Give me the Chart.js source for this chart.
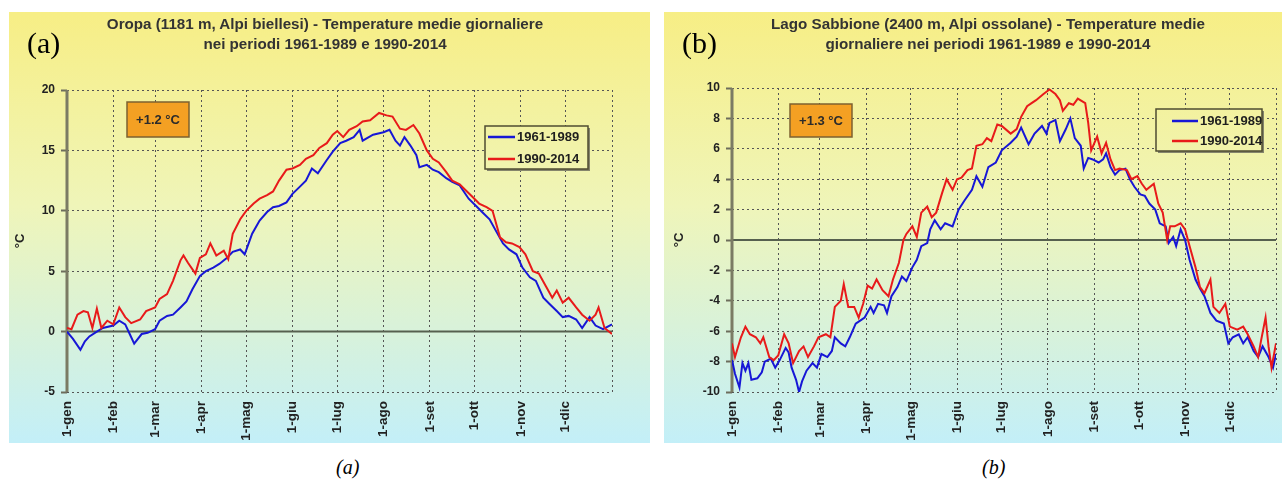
<!DOCTYPE html>
<html><head><meta charset="utf-8">
<script src="https://cdn.jsdelivr.net/npm/chart.js@4"></script>
<style>
body{margin:0;width:1282px;height:487px;background:#fff;position:relative;overflow:hidden;font-family:"Liberation Sans",Arial,sans-serif}
canvas{position:absolute;top:12px}
#ca{left:9px}
#cb{left:664px}
.title{position:absolute;top:14px;width:560px;font-weight:bold;font-size:15.2px;color:#333;text-align:center;line-height:20px;white-space:nowrap}
.tag{position:absolute;font-family:"Liberation Serif","Times New Roman",serif;font-size:30px;line-height:30px;color:#000}
.cap{position:absolute;top:457px;font-family:"Liberation Serif","Times New Roman",serif;font-style:italic;font-size:20px;line-height:20px;color:#000}
</style></head>
<body>
<canvas id="ca" width="641" height="431"></canvas>
<canvas id="cb" width="618" height="431"></canvas>
<div class="title" style="left:45px">Oropa (1181 m, Alpi biellesi) - Temperature medie giornaliere<br>nei periodi 1961-1989 e 1990-2014</div>
<div class="title" style="left:708px">Lago Sabbione (2400 m, Alpi ossolane) - Temperature medie<br>giornaliere nei periodi 1961-1989 e 1990-2014</div>
<div class="tag" style="left:27px;top:28px">(a)</div>
<div class="tag" style="left:682px;top:28px">(b)</div>
<div class="cap" style="left:336px">(a)</div>
<div class="cap" style="left:982px">(b)</div>
<script>
// ---- data ----
const monthTicks = [0,31,59,90,120,151,181,212,243,273,304,334];
const monthLabels = ['1-gen','1-feb','1-mar','1-apr','1-mag','1-giu','1-lug','1-ago','1-set','1-ott','1-nov','1-dic'];
const yearEnd = 365;
const seriesLabels = ['1961-1989','1990-2014'];

// Oropa 1961-1989
const oropaDays6189 = [0,4,9,12,15,20,24,31,35,39,42,45,50,54,59,62,67,71,76,80,84,89,93,98,102,107,111,116,119,124,129,134,138,142,147,151,156,160,164,168,174,178,183,187,192,196,198,205,212,216,220,223,226,230,234,236,241,245,249,254,258,263,269,274,278,283,287,292,296,301,305,310,314,319,323,328,332,336,341,345,350,354,359,365];
const oropaTemp6189 = [0,-0.6,-1.5,-0.8,-0.4,0,0.3,0.5,0.9,0.6,-0.2,-1.0,-0.2,-0.1,0.2,0.9,1.3,1.4,2.0,2.5,3.5,4.6,5.0,5.3,5.6,6.1,6.6,6.8,6.4,8.1,9.2,9.9,10.3,10.4,10.7,11.4,12.0,12.5,13.5,13.1,14.2,14.9,15.6,15.8,16.1,16.7,15.8,16.3,16.5,16.7,15.8,15.4,16.1,15.4,14.6,13.6,13.8,13.4,13.2,12.7,12.4,12.1,11.0,10.4,9.9,9.3,8.4,7.3,6.8,6.4,5.3,4.5,4.2,2.8,2.3,1.7,1.2,1.3,1.0,0.3,1.2,0.5,0.2,0.6];
// Oropa 1990-2014
const oropaDays9014 = [0,3,7,11,14,17,20,23,27,31,35,39,43,49,53,59,62,67,71,76,78,81,86,89,93,96,100,105,108,111,116,120,125,129,134,138,142,147,151,156,160,165,169,174,178,181,185,189,194,198,203,209,214,218,223,227,232,236,241,245,249,254,258,263,267,272,276,281,285,290,294,298,303,307,312,316,321,325,328,332,336,341,345,350,354,356,360,365];
const oropaTemp9014 = [0.3,0.2,1.4,1.7,1.6,0.3,1.9,0.3,0.9,0.6,2.0,1.2,0.7,1.0,1.7,2.0,2.7,3.1,4.2,5.9,6.3,5.7,4.8,6.1,6.4,7.3,6.3,6.7,6.0,8.1,9.3,10.0,10.6,11.0,11.3,11.6,12.5,13.4,13.5,13.8,14.3,14.6,15.2,15.6,16.3,16.6,16.1,16.7,17.0,17.4,17.5,18.1,17.9,17.8,16.8,16.7,17.1,16.4,15.0,14.3,14.0,13.2,12.5,12.2,11.7,11.1,10.6,10.3,10.0,7.8,7.4,7.3,7.0,6.4,5.0,4.8,3.7,2.8,3.4,2.4,2.8,2.0,1.4,0.9,1.4,2.0,0.3,-0.2];

// Lago Sabbione 1961-1989
const sabbDays6189 = [0,2,5,7,9,11,13,17,20,22,26,29,32,36,38,40,43,45,47,50,54,57,60,64,67,69,73,76,79,83,86,89,93,95,98,102,104,107,111,114,117,121,124,127,131,133,136,140,143,148,152,156,161,164,168,172,177,181,187,191,194,199,203,208,211,213,217,220,224,227,230,234,236,239,242,246,249,251,254,257,260,264,267,270,274,277,280,284,287,291,293,296,298,301,304,307,311,314,317,321,325,330,333,336,340,343,346,350,353,356,360,363,365];
const sabbTemp6189 = [-7.9,-8.8,-9.7,-8.1,-8.6,-8.1,-9.2,-9.1,-8.7,-8.0,-7.8,-8.4,-7.9,-7.1,-7.4,-8.4,-9.2,-10.0,-9.3,-8.6,-8.1,-8.4,-7.5,-7.7,-7.3,-6.4,-6.8,-7.0,-6.4,-5.5,-5.3,-5.1,-4.4,-4.8,-4.2,-4.3,-4.8,-3.7,-3.1,-2.4,-2.7,-1.8,-1.3,-0.4,-0.2,0.7,1.3,0.7,1.1,0.9,2.0,2.6,3.3,4.2,3.5,4.8,5.1,5.9,6.4,6.8,7.4,6.3,7.0,7.5,7.0,7.7,7.9,6.5,7.3,8.0,6.7,6.2,4.7,5.4,5.3,5.1,5.3,5.7,4.8,4.3,4.6,4.7,4.0,3.5,3.0,2.9,2.4,2.0,1.1,0.9,-0.2,0.2,-0.4,0.7,0.0,-1.3,-2.6,-3.2,-3.7,-4.8,-5.3,-5.5,-6.8,-6.4,-6.2,-6.8,-6.4,-7.3,-7.7,-7.0,-7.7,-8.4,-7.5];
// Lago Sabbione 1990-2014
const sabbDays9014 = [0,2,6,9,12,16,19,21,25,28,31,35,38,41,45,48,51,55,58,63,66,69,73,75,78,82,85,88,91,94,97,101,105,108,112,115,117,121,124,127,131,134,137,141,144,148,151,154,158,161,164,168,171,174,178,181,187,191,194,198,201,204,209,213,217,220,222,226,229,232,237,239,241,245,248,251,254,257,260,265,268,272,275,278,283,286,289,292,294,297,301,304,307,311,314,317,321,323,327,331,334,339,343,346,350,353,355,358,360,362,365];
const sabbTemp9014 = [-6.8,-7.7,-6.4,-5.7,-6.2,-6.4,-6.8,-6.4,-7.7,-7.9,-7.6,-6.2,-6.8,-8.1,-7.3,-7.0,-7.7,-7.0,-6.4,-6.2,-6.4,-4.4,-4.0,-2.9,-4.4,-4.4,-5.1,-4.2,-3.0,-3.2,-2.6,-3.3,-3.7,-2.6,-1.5,0.0,0.4,0.9,0.2,1.8,2.2,1.5,1.8,3.1,4.0,3.3,4.0,4.1,4.6,4.7,6.2,6.3,6.7,6.5,7.6,7.5,7.0,7.3,8.1,8.8,9.0,9.2,9.6,9.9,9.6,9.2,8.5,9.0,8.9,9.3,9.0,7.7,5.9,6.8,5.7,6.4,5.3,4.6,4.7,4.6,4.0,4.2,3.7,3.3,3.7,2.4,1.8,0.0,0.9,0.9,1.1,0.7,-0.4,-1.8,-3.1,-3.5,-2.6,-4.4,-4.8,-4.2,-5.7,-5.9,-5.7,-6.2,-7.0,-7.7,-6.6,-5.1,-7.0,-8.4,-6.8];

const deltaA = '+1.2 °C';
const deltaB = '+1.3 °C';

// ---- rendering ----
Chart.defaults.font.family = '"Liberation Sans", Arial, sans-serif';
const BLUE = '#1717d6', RED = '#e81a1a', AXIS = '#7b7b64';

function pts(days, vals){ return days.map((d,i)=>({x:d, y:vals[i]})); }

function makeGradient(ctx, h){
  const g = ctx.createLinearGradient(0,0,0,h);
  g.addColorStop(0,'#f7ee85');
  g.addColorStop(0.45,'#eff5b9');
  g.addColorStop(1,'#c3eff8');
  return g;
}

const panelPlugin = {
  id:'panel',
  beforeDraw(chart){
    const c = chart.ctx;
    c.save();
    c.fillStyle = makeGradient(c, chart.height);
    c.fillRect(0,0,chart.width,chart.height);
    c.restore();
  },
  afterDatasetsDraw(chart, args, o){
    const c = chart.ctx;
    c.save();
    // orange delta box
    const b = o.box;
    c.fillStyle = '#f4a023';
    c.fillRect(b.x,b.y,b.w,b.h);
    c.strokeStyle = '#7d6130'; c.lineWidth = 1.5;
    c.strokeRect(b.x,b.y,b.w,b.h);
    c.fillStyle = '#2b2b2b';
    c.font = 'bold 13px "Liberation Sans", Arial, sans-serif';
    c.textAlign='center'; c.textBaseline='middle';
    c.fillText(b.text, b.x+b.w/2, b.y+b.h/2+1);
    // legend
    const L = o.legend;
    c.fillStyle = '#85856c';
    c.fillRect(L.x+2,L.y+2,L.w,L.h);
    c.fillStyle = makeGradient(c, chart.height);
    c.fillRect(L.x,L.y,L.w,L.h);
    c.strokeStyle = '#4f4c32'; c.lineWidth = 1.5;
    c.strokeRect(L.x,L.y,L.w,L.h);
    const ds = [chart.data.datasets[1], chart.data.datasets[0]];
    c.font = 'bold 13px "Liberation Sans", Arial, sans-serif';
    c.textAlign='left'; c.textBaseline='middle';
    ds.forEach((d,i)=>{
      const y = L.rows[i];
      c.strokeStyle = d.borderColor; c.lineWidth = 2.5;
      c.beginPath(); c.moveTo(L.lx, y); c.lineTo(L.lx+L.lw, y); c.stroke();
      c.fillStyle = '#1e1e1e';
      c.fillText(d.label, L.lx+L.lw+2, y+0.5);
    });
    c.restore();
  }
};

function build(id, cfg){
  return new Chart(document.getElementById(id), {
    type:'line',
    data:{datasets:[
      {label:seriesLabels[1], data:pts(cfg.d2,cfg.v2), borderColor:RED, borderWidth:2, pointRadius:0, tension:0},
      {label:seriesLabels[0], data:pts(cfg.d1,cfg.v1), borderColor:BLUE, borderWidth:2, pointRadius:0, tension:0},
      {label:'axis', data:[{x:0,y:cfg.ymin},{x:0,y:cfg.ymax}], borderColor:AXIS, borderWidth:3, pointRadius:0, clip:false},
      {label:'zero', data:[{x:0,y:0},{x:yearEnd,y:0}], borderColor:'#56604f', borderWidth:2, pointRadius:0}
    ]},
    options:{
      responsive:false, animation:false, events:[],
      layout:{padding:{top:cfg.top, right:cfg.right, left:0, bottom:0}},
      plugins:{legend:{display:false}, tooltip:{enabled:false}, title:{display:false},
        panel:{box:cfg.box, legend:cfg.legend}},
      scales:{
        x:{type:'linear', min:0, max:yearEnd,
          afterBuildTicks(s){ s.ticks = monthTicks.concat([yearEnd]).map(v=>({value:v})); },
          afterFit(s){ s.height = 51; s.paddingLeft = 0; s.paddingRight = 0; },
          ticks:{autoSkip:false, minRotation:90, maxRotation:90, padding:9,
            color:'#222', font:{size:13.5, weight:'bold'},
            callback(v){ const i = monthTicks.indexOf(v); return i>=0 ? monthLabels[i] : ''; }},
          grid:{color:'#555', lineWidth:1, drawTicks:false},
          border:{display:false, dash:[2,3]}
        },
        y:{min:cfg.ymin, max:cfg.ymax,
          afterBuildTicks(s){ const t=[]; for(let v=cfg.ymin; v<=cfg.ymax; v+=cfg.step) t.push({value:v}); s.ticks=t; },
          afterFit(s){ s.width = cfg.yw; },
          ticks:{padding:6, color:'#222', font:{size:12, weight:'bold'}},
          grid:{color:(ctx)=> (ctx.tick && ctx.tick.value===0) ? 'rgba(0,0,0,0)' : '#555',
                lineWidth:1, drawTicks:true, tickLength:6, tickColor:'#6d6d5c', tickWidth:2},
          border:{display:false, dash:[2,3]},
          title:{display:true, text:'°C', color:'#222', font:{size:13, weight:'bold'}, padding:{top:cfg.tpad, bottom:0}}
        }
      }
    },
    plugins:[panelPlugin]
  });
}

build('ca', {d1:oropaDays6189, v1:oropaTemp6189, d2:oropaDays9014, v2:oropaTemp9014,
  ymin:-5, ymax:20, step:5, yw:58, top:78, right:38, tpad:4,
  box:{x:118,y:90,w:62,h:35,text:deltaA},
  legend:{x:476,y:114,w:103,h:43, rows:[125,147], lx:479, lw:27}});
build('cb', {d1:sabbDays6189, v1:sabbTemp6189, d2:sabbDays9014, v2:sabbTemp9014,
  ymin:-10, ymax:10, step:2, yw:68, top:76, right:6, tpad:8,
  box:{x:126,y:92,w:62,h:33,text:deltaB},
  legend:{x:492,y:97,w:106,h:42, rows:[109,129], lx:508, lw:26}});
</script>
</body></html>
